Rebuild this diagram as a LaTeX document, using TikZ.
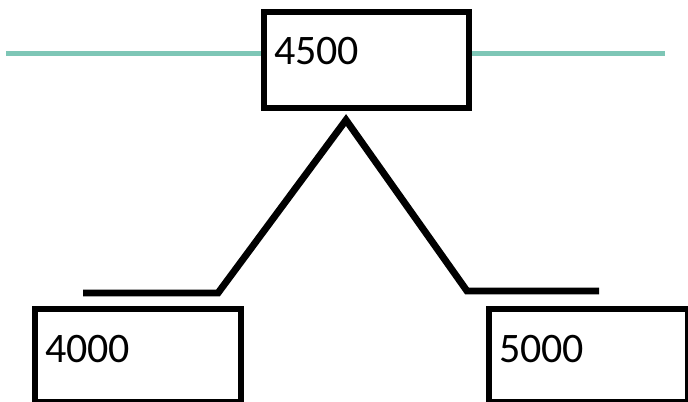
\documentclass[tikz,border=0pt]{standalone}
\usepackage{fontspec}
\setmainfont{Carlito}
\usepackage{tikz}
\usetikzlibrary{positioning}
\definecolor{teal}{RGB}{126, 198, 182}
\tikzstyle{numbox} = [rectangle, draw=black, fill=white, line width=4.5pt, inner xsep=7.5pt, inner ysep=0pt, text height=39.75pt, text depth=30pt, align=left, anchor=north west, font=\fontsize{31.5pt}{38pt}\selectfont]
\tikzstyle{rule} = [draw=teal, line width=3.6pt]
\tikzstyle{peak} = [draw=black, line width=5.2pt, line join=miter]

\begin{document}
\begin{tikzpicture}[x=0.75pt, y=-0.75pt]
\useasboundingbox (0,0) rectangle (688,402);

% teal line =============================
\coordinate (lineL) at (6,53.5);
\coordinate (lineR) at (665,53.5);
\path[rule] (lineL) -- (lineR);

% boxes
\node[numbox, text width=138.75pt, text depth=32.25pt] (mid) at (261,9) {4500};
\node[numbox, text width=139.5pt] (low) at (32,306) {4000};
\node[numbox, text width=134.25pt] (high) at (486,306) {5000};

% peak
\coordinate (footL) at (83,293);
\coordinate (kneeL) at (218,293);
\coordinate (apex) at (346,120);
\coordinate (kneeR) at (467,291);
\coordinate (footR) at (599,291);
\path[peak] (footL) -- (kneeL) -- (apex) -- (kneeR) -- (footR);

\end{tikzpicture}
\end{document}
